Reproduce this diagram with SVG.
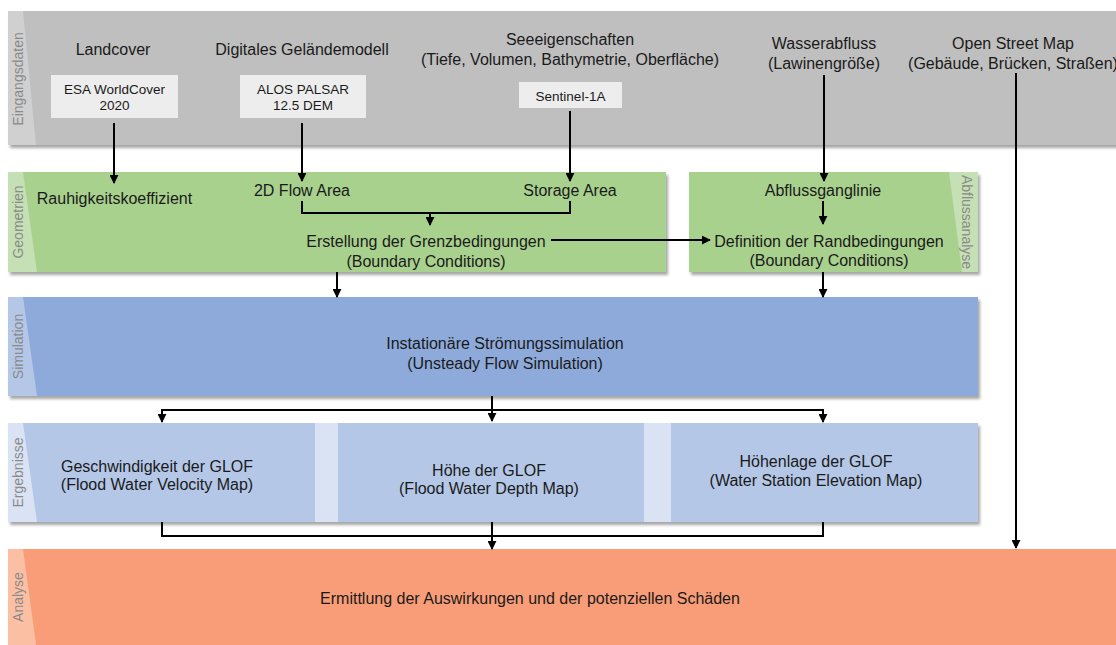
<svg xmlns="http://www.w3.org/2000/svg" width="1116" height="645" viewBox="0 0 1116 645">
<defs>
<filter id="sh" x="-5%" y="-10%" width="110%" height="130%">
<feDropShadow dx="2" dy="3" stdDeviation="1.8" flood-color="#000" flood-opacity="0.35"/>
</filter>
<marker id="ah" viewBox="0 0 10 10" refX="9" refY="5" markerWidth="9" markerHeight="9" markerUnits="userSpaceOnUse" orient="auto">
<path d="M0,0 L10,5 L0,10 z" fill="#000"/>
</marker>
<style>
text{font-family:"Liberation Sans",Arial,sans-serif;fill:#1a1a1a}
.t{font-size:16px;text-anchor:middle}
.s{font-size:13.5px;text-anchor:middle}
.lb{font-size:14px;text-anchor:middle;fill:#8a8a8a}
.c{fill:none;stroke:#000;stroke-width:2}
.a{fill:none;stroke:#000;stroke-width:2;marker-end:url(#ah)}
</style>
</defs>
<rect width="1116" height="645" fill="#fff"/>

<g id="eingangsdaten">
<rect x="8" y="11" width="1120" height="134" fill="#bfbfbf" filter="url(#sh)"/>
<polygon points="8,11 23,11 36,145 8,145" fill="#d0d0d0"/>
<text class="lb" transform="translate(23,79) rotate(-90)">Eingangsdaten</text>
</g>
<g id="landcover"><text class="t" x="113" y="54.5">Landcover</text></g>
<g id="dgm"><text class="t" x="302" y="54.5">Digitales Geländemodell</text></g>
<g id="seeeigenschaften"><text class="t" x="570" y="44.5">Seeeigenschaften</text><text class="t" x="570" y="65">(Tiefe, Volumen, Bathymetrie, Oberfläche)</text></g>
<g id="wasserabfluss"><text class="t" x="824" y="49">Wasserabfluss</text><text class="t" x="824" y="68.5">(Lawinengröße)</text></g>
<g id="osm"><text class="t" x="1013" y="49">Open Street Map</text><text class="t" x="1013" y="68.5">(Gebäude, Brücken, Straßen)</text></g>
<g id="esa"><rect x="51" y="75" width="127" height="43" fill="#ededed"/><text class="s" x="114.5" y="93.5">ESA WorldCover</text><text class="s" x="114.5" y="110">2020</text></g>
<g id="alos"><rect x="240" y="75" width="126" height="43" fill="#ededed"/><text class="s" x="303" y="93.5">ALOS PALSAR</text><text class="s" x="303" y="110">12.5 DEM</text></g>
<g id="sentinel"><rect x="519" y="82" width="103" height="26" fill="#ededed"/><text class="s" x="570.5" y="100.5">Sentinel-1A</text></g>

<g id="geometrien">
<rect x="8" y="172" width="658" height="100" fill="#a9d18e" filter="url(#sh)"/>
<polygon points="8,172 23,172 37,272 8,272" fill="#c5e0b4"/>
<text class="lb" transform="translate(23,222) rotate(-90)">Geometrien</text>
</g>
<g id="rauhigkeit"><text class="t" x="114.5" y="204">Rauhigkeitskoeffizient</text></g>
<g id="flowarea"><text class="t" x="302" y="195.5">2D Flow Area</text></g>
<g id="storage"><text class="t" x="570" y="195.5">Storage Area</text></g>
<g id="grenz"><text class="t" x="426" y="247">Erstellung der Grenzbedingungen</text><text class="t" x="426" y="266.5">(Boundary Conditions)</text></g>

<g id="abflussanalyse">
<rect x="689" y="172" width="289" height="100" fill="#a9d18e" filter="url(#sh)"/>
<polygon points="949,172 978,172 978,272 962,272" fill="#c5e0b4"/>
<text class="lb" transform="translate(962,222) rotate(90)">Abflussanalyse</text>
</g>
<g id="abflussganglinie"><text class="t" x="823" y="195.5">Abflussganglinie</text></g>
<g id="rand"><text class="t" x="829" y="247">Definition der Randbedingungen</text><text class="t" x="829" y="266">(Boundary Conditions)</text></g>

<g id="simulation">
<rect x="8" y="297" width="970" height="99" fill="#8eaadb" filter="url(#sh)"/>
<polygon points="8,297 23,297 37,396 8,396" fill="#b4c7e7"/>
<text class="lb" transform="translate(23,346.5) rotate(-90)">Simulation</text>
<text class="t" x="505" y="349">Instationäre Strömungssimulation</text>
<text class="t" x="505" y="369">(Unsteady Flow Simulation)</text>
</g>

<g id="ergebnisse">
<rect x="8" y="423" width="970" height="99" fill="#b4c7e7" filter="url(#sh)"/>
<polygon points="8,423 23,423 37,522 8,522" fill="#dae3f3"/>
<rect x="315" y="423" width="23" height="99" fill="#dae3f3"/>
<rect x="644" y="423" width="27" height="99" fill="#dae3f3"/>
<text class="lb" transform="translate(23,472.5) rotate(-90)">Ergebnisse</text>
</g>
<g id="geschwindigkeit"><text class="t" x="157" y="472">Geschwindigkeit der GLOF</text><text class="t" x="157" y="490">(Flood Water Velocity Map)</text></g>
<g id="hoehe"><text class="t" x="489" y="476">Höhe der GLOF</text><text class="t" x="489" y="494">(Flood Water Depth Map)</text></g>
<g id="hoehenlage"><text class="t" x="816" y="467">Höhenlage der GLOF</text><text class="t" x="816" y="486">(Water Station Elevation Map)</text></g>

<g id="analyse">
<rect x="8" y="549" width="1120" height="110" fill="#f99d78" filter="url(#sh)"/>
<polygon points="8,549 23,549 38,659 8,659" fill="#fbbfa4"/>
<text class="lb" transform="translate(23,597) rotate(-90)">Analyse</text>
<text class="t" x="530" y="604">Ermittlung der Auswirkungen und der potenziellen Schäden</text>
</g>

<g id="connectors">
<line class="a" x1="114" y1="123" x2="114" y2="183"/>
<line class="a" x1="302" y1="123" x2="302" y2="181"/>
<line class="a" x1="570" y1="111" x2="570" y2="181"/>
<line class="a" x1="824" y1="75" x2="824" y2="181"/>
<line class="a" x1="1016" y1="73" x2="1016" y2="548"/>
<polyline class="c" points="302,201 302,213 570,213 570,201"/>
<line class="a" x1="430" y1="213" x2="430" y2="225"/>
<line class="a" x1="551" y1="240" x2="710" y2="240"/>
<line class="a" x1="823" y1="201" x2="823" y2="224"/>
<line class="a" x1="337" y1="272" x2="337" y2="297"/>
<line class="a" x1="823" y1="272" x2="823" y2="297"/>
<line class="a" x1="492" y1="396" x2="492" y2="421"/>
<polyline class="c" points="162,421 162,410 823,410 823,421"/>
<line class="a" x1="162" y1="410" x2="162" y2="422"/>
<line class="a" x1="823" y1="410" x2="823" y2="422"/>
<polyline class="c" points="162,522 162,536 823,536 823,522"/>
<line class="a" x1="492" y1="522" x2="492" y2="549"/>
</g>
</svg>
